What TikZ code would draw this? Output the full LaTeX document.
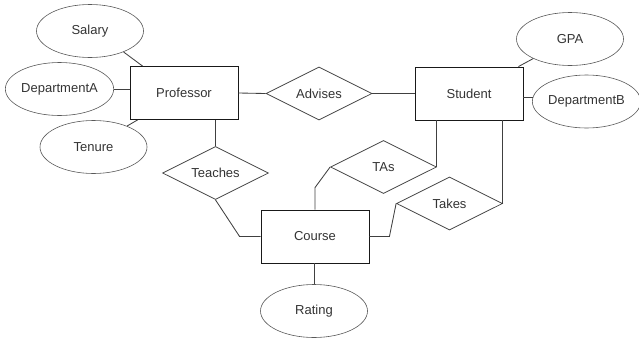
\documentclass[tikz,border=0pt]{standalone}
\usepackage{fontspec}
\setmainfont{Liberation Sans}
\usepackage{tikz}
\usetikzlibrary{shapes.geometric}

\begin{document}
\begin{tikzpicture}[x=1pt, y=-1pt,
	every node/.style={font=\fontsize{13}{15}\selectfont, text=black!80},
	entity/.style={draw=black!90, line width=0.85pt, minimum width=108pt, minimum height=53pt, inner sep=0pt},
	attr/.style={draw=black!65, line width=0.6pt, ellipse, minimum width=107pt, minimum height=53pt, inner sep=0pt},
	rel/.style={draw=black!75, line width=0.75pt, diamond, aspect=2, minimum width=106pt, minimum height=53pt, inner sep=0pt},
	link/.style={draw=black!75, line width=0.85pt}]
	\useasboundingbox (0,0) rectangle (639,343);
	
	\node[entity] (prof) at (184,93) {Professor};
	\node[entity] (stud) at (469,93.5) {Student};
	\node[entity] (course) at (315,236.5) {Course};
	
	\node[rel] (adv) at (319,93.5) {Advises};
	\node[rel] (teach) at (215.5,173) {Teaches};
	\node[rel] (tas) at (383.5,167) {TAs};
	\node[rel] (takes) at (449.5,203.5) {Takes};
	
	\node[attr] (salary) at (90,31) {Salary};
	\node[attr] (depA) at (59.5,89) {DepartmentA};
	\node[attr] (tenure) at (93.5,147) {Tenure};
	\node[attr] (gpa) at (570,39) {GPA};
	\node[attr] (depB) at (586.5,101.5) {DepartmentB};
	\node[attr] (rating) at (314,311) {Rating};
	
	\draw[link] (salary.-32) -- ([xshift=13pt]prof.north west);
	\draw[link] (depA.east) -- (depA.east -| prof.west);
	\draw[link] (tenure.32) -- ([xshift=8pt]prof.south west);
	\draw[link] (gpa.-152) -- ([xshift=-5pt]stud.north east);
	\draw[link] (depB.176) -- (depB.176 -| stud.east);
	\draw[link] (rating.north) -- (rating.north |- course.south);
	
	\draw[link] (prof.east) -- (adv.west);
	\draw[link] (adv.east) -- (stud.west);
	\draw[link] (teach.north) -- (teach.north |- prof.south);
	\draw[link] (teach.south) -- ([xshift=-21pt]course.west) -- (course.west);
	\draw[link] (course.north) -- ([yshift=22pt]course.north) -- (tas.west);
	\draw[link] (tas.east) -- (tas.east |- stud.south);
	\draw[link] (takes.east) -- (takes.east |- stud.south);
	\draw[link] (course.east) -- ([xshift=20pt]course.east) -- (takes.west);
\end{tikzpicture}
\end{document}
